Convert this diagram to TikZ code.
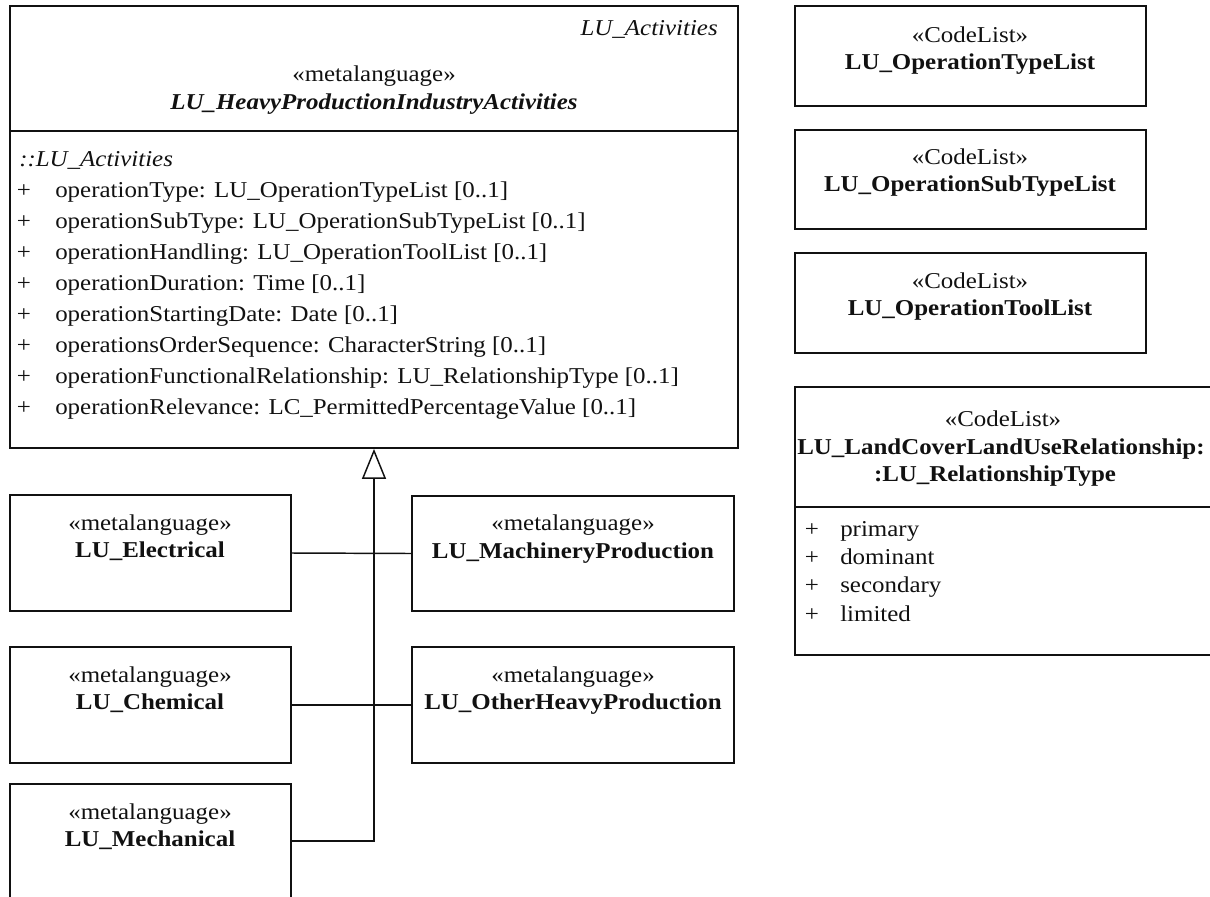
\documentclass[tikz,border=0pt]{standalone}
\usepackage{fontspec}
\setmainfont{Liberation Serif}[FakeStretch=1.1]
\usetikzlibrary{arrows.meta,fit}
\definecolor{ink}{HTML}{111111}

\begin{document}
\begin{tikzpicture}[x=0.75pt,y=-0.75pt,
  font=\fontsize{17pt}{20pt}\selectfont,
  every node/.style={text=ink},
  box/.style={draw=ink, line width=1.35pt, inner sep=0pt},
  txt/.style={inner sep=0pt, anchor=mid},
  ltxt/.style={inner sep=0pt, anchor=mid west},
  conn/.style={draw=ink, line width=1.1pt},
  gen/.style={-{Triangle[open, length=22.5pt, width=18pt, fill=white]}}
]
\useasboundingbox (0,0) rectangle (1210,896);

% ---- abstract metaclass with its attributes
\node[box, fit={(10,6) (738,448)}] (act) {};
\coordinate (actsep) at (0,131);
\draw[box] (act.west |- actsep) -- (act.east |- actsep);
\node[inner sep=0pt, anchor=mid east] (act-pkg) at (718,32) {\itshape LU\_Activities};
\node[txt] (act-st) at (374,78) {«metalanguage»};
\node[txt] (act-nm) at (374,106) {\bfseries\itshape LU\_HeavyProductionIndustryActivities};
\node[ltxt] (act-par) at (19,163) {\itshape ::LU\_Activities};
\foreach \t [count=\i] in {
  {operationType: LU\_OperationTypeList [0..1]},
  {operationSubType: LU\_OperationSubTypeList [0..1]},
  {operationHandling: LU\_OperationToolList [0..1]},
  {operationDuration: Time [0..1]},
  {operationStartingDate: Date [0..1]},
  {operationsOrderSequence: CharacterString [0..1]},
  {operationFunctionalRelationship: LU\_RelationshipType [0..1]},
  {operationRelevance: LC\_PermittedPercentageValue [0..1]}} {
  \node[txt] (act-v\i) at (24,{163+31*\i}) {+};
  \node[ltxt] (act-a\i) at (55,{163+31*\i}) {\t};
}

% ---- code lists
\node[box, fit={(795,6) (1146,106)}] (otl) {};
\node[txt] (otl-st) at (970,39) {«CodeList»};
\node[txt] (otl-nm) at (970,66) {\bfseries LU\_OperationTypeList};

\node[box, fit={(795,130) (1146,229)}] (ostl) {};
\node[txt] (ostl-st) at (970,161) {«CodeList»};
\node[txt] (ostl-nm) at (970,188) {\bfseries LU\_OperationSubTypeList};

\node[box, fit={(795,253) (1146,353)}] (otool) {};
\node[txt] (otool-st) at (970,285) {«CodeList»};
\node[txt] (otool-nm) at (970,312) {\bfseries LU\_OperationToolList};

\node[box, fit={(795,387) (1214,655)}] (rel) {};
\coordinate (relsep) at (0,507);
\draw[box] (rel.west |- relsep) -- (rel.east |- relsep);
\node[txt] (rel-st) at (1003,423) {«CodeList»};
\node[txt] (rel-nm1) at (1001,451) {\bfseries LU\_LandCoverLandUseRelationship:};
\node[txt] (rel-nm2) at (995,478) {\bfseries :LU\_RelationshipType};
\foreach \t [count=\i] in {primary, dominant, secondary, limited} {
  \node[txt] (rel-v\i) at (812,{505+28.3*\i}) {+};
  \node[ltxt] (rel-a\i) at (840,{505+28.3*\i}) {\t};
}

% ---- specialised metaclasses
\node[box, fit={(10,495) (291,611)}] (elec) {};
\node[txt] (elec-st) at (150,527) {«metalanguage»};
\node[txt] (elec-nm) at (150,554) {\bfseries LU\_Electrical};

\node[box, fit={(10,647) (291,763)}] (chem) {};
\node[txt] (chem-st) at (150,679) {«metalanguage»};
\node[txt] (chem-nm) at (150,706) {\bfseries LU\_Chemical};

\node[box, fit={(10,784) (291,898)}] (mech) {};
\node[txt] (mech-st) at (150,816) {«metalanguage»};
\node[txt] (mech-nm) at (150,843) {\bfseries LU\_Mechanical};

\node[box, fit={(412,496) (734,611)}] (mach) {};
\node[txt] (mach-st) at (573,527) {«metalanguage»};
\node[txt] (mach-nm) at (573,555) {\bfseries LU\_MachineryProduction};

\node[box, fit={(412,647) (734,763)}] (oth) {};
\node[txt] (oth-st) at (573,679) {«metalanguage»};
\node[txt] (oth-nm) at (573,706) {\bfseries LU\_OtherHeavyProduction};

% ---- generalisation tree
\draw[conn, gen] (mech.east) -| (act.south);
\draw[conn] (elec.east) -- (mach.west);
\draw[conn] (chem.east) -- (oth.west);
\end{tikzpicture}
\end{document}
